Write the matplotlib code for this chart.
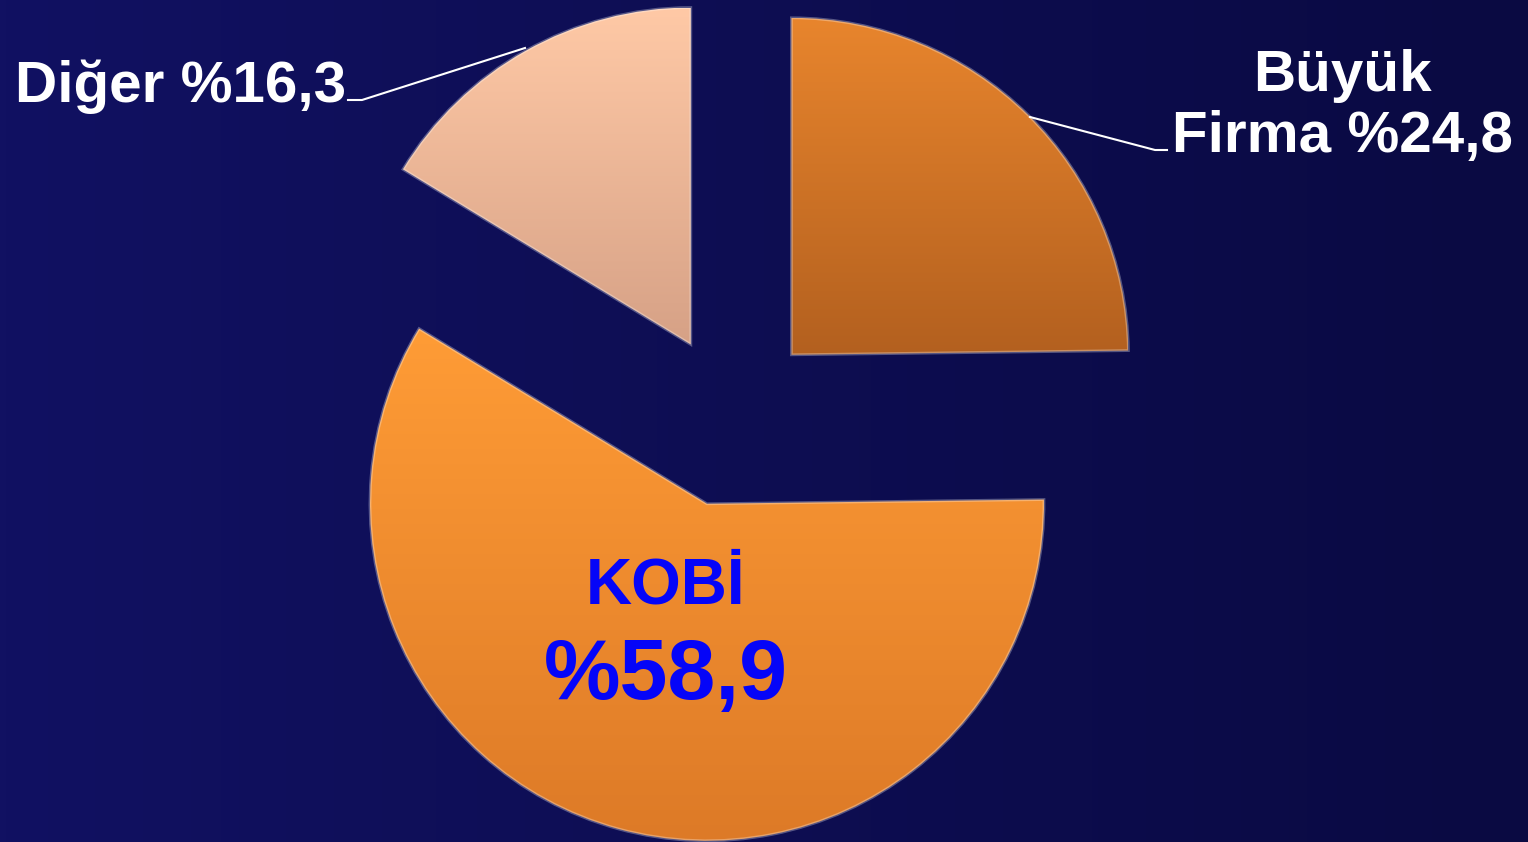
import matplotlib.pyplot as plt
import numpy as np
from matplotlib.colors import to_rgb

# veriler
kategoriler = ["Büyük Firma", "KOBİ", "Diğer"]
oranlar = [24.8, 58.9, 16.3]
ust_renk = ["#E8852D", "#FF9C36", "#FFC9A6"]
alt_renk = ["#B3601F", "#DD7A27", "#D6A186"]
patlatma = [86, 91, 82]

plt.rcParams['font.family'] = ['Liberation Sans', 'DejaVu Sans']
plt.rcParams['font.weight'] = 'bold'

fig = plt.figure(figsize=(15.28, 8.42), dpi=100)
ax = fig.add_axes([0, 0, 1, 1])

# arka plan
bg = np.linspace(0, 1, 256)[None, :, None]
c1 = np.array(to_rgb("#111162"))
c2 = np.array(to_rgb("#0A0A42"))
ax.imshow(c1 + (c2 - c1) * bg, extent=[0, 1528, 0, 842], aspect='auto', zorder=0)

wedges, _ = ax.pie(oranlar, startangle=90, counterclock=False, explode=patlatma,
                   radius=337, center=(731, 426), colors=ust_renk)

for w, cu, ca in zip(wedges, ust_renk, alt_renk):
    b = w.get_path().get_extents()
    g = np.linspace(0, 1, 256)[:, None, None]
    a = np.array(to_rgb(cu))
    z = np.array(to_rgb(ca))
    im = ax.imshow(a + (z - a) * g, extent=[b.x0, b.x1, b.y0, b.y1],
                   aspect='auto', zorder=2)
    im.set_clip_path(w)
    w.set_zorder(3)
    w.set_facecolor('none')
    w.set_edgecolor((1, 1, 1, 0.3))
    w.set_linewidth(2)

ax.set_xlim(0, 1528)
ax.set_ylim(0, 842)
ax.axis('off')

def yuzde(v):
    return "%" + f"{v:.1f}".replace(".", ",")

# etiketler
ax.text(15, 740, f"{kategoriler[2]} {yuzde(oranlar[2])}", color='white',
        fontsize=42, ha='left', va='baseline', zorder=5)
ax.plot([348, 362, 525], [742, 742, 794], color='white', lw=1.5, zorder=4)

ax.text(1342, 690, "Büyük\nFirma " + yuzde(oranlar[0]), color='white',
        fontsize=42, ha='center', va='baseline', linespacing=1.17, zorder=5)
ax.plot([1030, 1155, 1167], [725, 692, 692], color='white', lw=1.5, zorder=4)

ax.text(666, 238, kategoriler[1], color='#0505F8', fontsize=46,
        ha='center', va='baseline', zorder=5)
ax.text(666, 143, yuzde(oranlar[1]), color='#0505F8', fontsize=62,
        ha='center', va='baseline', zorder=5)

fig.savefig('out.png', dpi=100)
